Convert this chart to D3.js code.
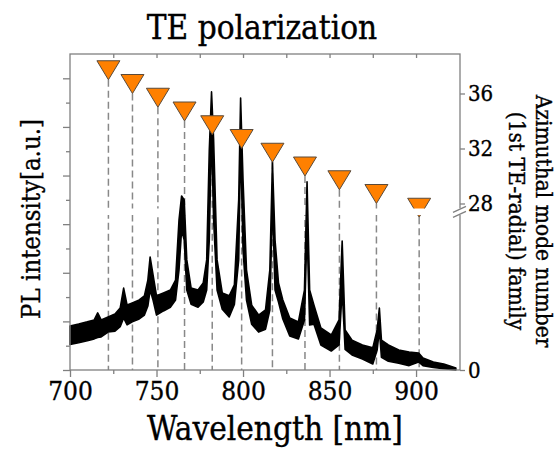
<!DOCTYPE html>
<html>
<head>
<meta charset="utf-8">
<script src="https://cdn.jsdelivr.net/npm/d3@7"></script>
<style>
  body { margin: 0; background: #fff; }
  svg text { font-family: "DejaVu Serif", "Liberation Serif", serif; font-stretch: condensed; fill: #000; stroke: #000; stroke-width: 0.35; }
</style>
</head>
<body>
<svg id="canvas"></svg>
<script>
let wavelengths = [700, 705, 710, 714, 716, 718, 722, 726, 729, 731, 733, 736, 740, 743, 745, 746.3, 748, 750,
  754, 758, 761, 763, 764.5, 766, 767.5, 770, 774, 777, 779, 780.5, 781.8, 783, 785, 788, 792, 795, 797.5,
  798.6, 800, 802, 805, 809, 813, 815.5, 817, 818.5, 820.5, 823, 827, 832, 835.5, 837, 838.5, 841, 845, 851,
  855.5, 857.3, 859, 863, 869, 875, 877.5, 878.8, 880, 884, 890, 896, 901.5, 904, 910, 916, 923];
let upperEnv = [1.81, 1.89, 1.98, 2.06, 2.35, 2.06, 2.18, 2.30, 2.55, 3.37, 2.67, 2.76, 2.88, 3.05, 3.70, 4.65, 3.91, 3.05,
  3.17, 3.29, 3.70, 6.17, 7.16, 7.00, 4.53, 3.37, 3.29, 3.58, 4.53, 9.05, 11.44, 9.47, 4.53, 3.17, 3.05, 3.50, 7.00,
  11.19, 7.82, 4.12, 2.67, 2.26, 2.47, 4.12, 8.56, 5.35, 3.58, 2.88, 2.14, 1.98, 3.29, 7.74, 3.29, 2.67, 1.73, 1.44,
  2.06, 5.31, 1.65, 1.23, 1.03, 0.91, 1.65, 2.55, 1.23, 1.03, 0.82, 0.74, 0.70, 0.49, 0.33, 0.25, 0.08];
let lowerEnv = [1.05, 1.12, 1.20, 1.28, 1.34, 1.36, 1.56, 1.60, 1.78, 2.14, 1.86, 1.98, 2.10, 2.26, 2.63, 3.29, 2.88, 2.26,
  2.43, 2.58, 2.88, 4.12, 5.76, 5.35, 3.29, 2.70, 2.58, 2.80, 3.29, 5.35, 9.88, 6.17, 3.29, 2.50, 2.18, 2.70, 4.53,
  9.47, 4.94, 2.88, 1.88, 1.56, 1.68, 2.47, 7.00, 3.29, 2.80, 2.10, 1.40, 1.28, 2.06, 5.76, 1.85, 1.88, 1.03, 0.78,
  1.03, 3.29, 0.85, 0.62, 0.45, 0.25, 0.82, 1.65, 0.52, 0.36, 0.28, 0.18, 0.33, 0.18, 0.10, 0.05, 0.00];

// azimuthal mode markers (1st TE-radial family)
let modeNumbers = [37, 36, 35, 34, 33, 32, 31, 30, 29, 28, 27];
let modeWavelengths = [722.2, 736.1, 750.8, 766.2, 782.2, 799.2, 817.0, 835.8, 855.7, 877.1, 901.8];

let xTicks = [700, 750, 800, 850, 900];
let xMinorTicks = [725, 775, 825, 875];
let xTopTicks = [725, 750, 775, 800, 825, 850, 875, 900];
let yTicks = [0, 1, 2, 3, 4, 5, 6, 7, 8, 9, 10, 11, 12];
let modeTicks = [0, 28, 32, 36];

let width = 559;
let height = 454;
let padLeft = 70, padRight = 460, padTop = 54, padBottom = 370;
let axisColor = "#808080";

let canvas = d3.select("#canvas").attr("width", width).attr("height", height);

let xScale = d3.scaleLinear().domain([700, 925.4]).range([padLeft, padRight]);
let yScale = d3.scaleLinear().domain([0, 13]).range([padBottom, padTop]);
let modeScale = d3.scaleLinear().domain([28, 36]).range([203.5, 93.5]);
// broken right axis: 0 at the bottom, 28..37 on top
let rightScale = d3.scaleLinear().domain([0, 27.5, 37]).range([padBottom, modeScale(27.5), modeScale(37)]);
let breakY = modeScale(27.5);

let defs = canvas.append("defs");
let clip = defs.append("clipPath").attr("id", "brk");
clip.append("rect").attr("x", padLeft).attr("y", padTop).attr("width", padRight - padLeft).attr("height", breakY - 2 - padTop);
clip.append("rect").attr("x", padLeft).attr("y", breakY + 4.5).attr("width", padRight - padLeft).attr("height", padBottom - breakY - 4.5);

let styleAxis = (g) => {
  g.selectAll(".domain").remove();
  g.selectAll("line").attr("stroke", axisColor).attr("stroke-width", 1.3);
};

// dashed guide lines
canvas.append("g")
  .attr("clip-path", "url(#brk)")
  .selectAll("line")
  .data(modeWavelengths)
  .enter()
  .append("line")
  .attr("x1", (d) => xScale(d))
  .attr("x2", (d) => xScale(d))
  .attr("y1", (d, i) => modeScale(modeNumbers[i]))
  .attr("y2", padBottom)
  .attr("stroke", "#888")
  .attr("stroke-width", 1.5)
  .attr("stroke-dasharray", "7,4");

// spectrum
let spectrum = wavelengths.map((w, i) => ({ w: w, hi: upperEnv[i], lo: lowerEnv[i] }));
let area = d3.area()
  .x((d) => xScale(d.w))
  .y0((d) => yScale(d.lo))
  .y1((d) => yScale(d.hi));
canvas.append("path")
  .datum(spectrum)
  .attr("d", area)
  .attr("fill", "#000")
  .attr("stroke", "#000")
  .attr("stroke-width", 1.6)
  .attr("stroke-linejoin", "round");

// triangles
let tri = "M-11.5,-19L11.5,-19L0,0Z";
canvas.append("g")
  .attr("clip-path", "url(#brk)")
  .selectAll("path")
  .data(modeWavelengths)
  .enter()
  .append("path")
  .attr("d", tri)
  .attr("transform", (d, i) => "translate(" + xScale(d) + "," + modeScale(modeNumbers[i]) + ")")
  .attr("fill", "#ff8000")
  .attr("stroke", "#5a4a3a")
  .attr("stroke-width", 1);

// frame
canvas.append("rect")
  .attr("x", padLeft).attr("y", padTop)
  .attr("width", padRight - padLeft).attr("height", padBottom - padTop)
  .attr("fill", "none")
  .attr("stroke", axisColor)
  .attr("stroke-width", 1.3);

// bottom axis
let xAxis = d3.axisBottom(xScale).tickValues(xTicks).tickSize(7).tickPadding(5);
canvas.append("g")
  .attr("transform", "translate(0," + padBottom + ")")
  .call(xAxis)
  .call(styleAxis)
  .selectAll("text")
  .attr("font-size", 26)
  .attr("fill", "#000");
canvas.append("g")
  .attr("transform", "translate(0," + padBottom + ")")
  .call(d3.axisBottom(xScale).tickValues(xMinorTicks).tickSize(4).tickFormat(""))
  .call(styleAxis);

// top axis, ticks pointing in
canvas.append("g")
  .attr("transform", "translate(0," + padTop + ")")
  .call(d3.axisTop(xScale).tickValues(xTopTicks).tickSize(-4).tickFormat(""))
  .call(styleAxis);

// left axis, long ticks on even values
let yAxis = d3.axisLeft(yScale).tickValues(yTicks).tickFormat("");
canvas.append("g")
  .attr("transform", "translate(" + padLeft + ",0)")
  .call(yAxis)
  .call(styleAxis)
  .selectAll(".tick line")
  .attr("x2", (d) => (d % 2 === 0 ? -7 : -4));

// right axis
let rAxis = d3.axisRight(rightScale).tickValues(modeTicks).tickSize(5).tickPadding(3);
canvas.append("g")
  .attr("transform", "translate(" + padRight + ",0)")
  .call(rAxis)
  .call(styleAxis)
  .selectAll("text")
  .attr("font-size", 22)
  .attr("fill", "#000");

// axis break
canvas.append("rect")
  .attr("x", padRight - 3).attr("y", breakY - 2)
  .attr("width", 6).attr("height", 6.5)
  .attr("fill", "#fff");
[0, 5].forEach((off) => {
  canvas.append("line")
    .attr("x1", padRight - 7).attr("y1", breakY + 2 + off)
    .attr("x2", padRight + 6).attr("y2", breakY - 4 + off)
    .attr("stroke", axisColor)
    .attr("stroke-width", 1.3);
});

// titles
canvas.append("text")
  .attr("x", 262).attr("y", 39)
  .attr("text-anchor", "middle")
  .attr("font-size", 33)
  .text("TE polarization");

canvas.append("text")
  .attr("x", 275).attr("y", 440)
  .attr("text-anchor", "middle")
  .attr("font-size", 33)
  .text("Wavelength [nm]");

canvas.append("text")
  .attr("transform", "translate(40,219) rotate(-90)")
  .attr("text-anchor", "middle")
  .attr("font-size", 25.5)
  .text("PL intensity[a.u.]");

let rLabel = canvas.append("text")
  .attr("transform", "translate(536,221) rotate(90)")
  .attr("text-anchor", "middle")
  .attr("font-size", 22.5);
rLabel.append("tspan").attr("x", 0).attr("dy", 0).text("Azimuthal mode number");
rLabel.append("tspan").attr("x", 0).attr("dy", 27).text("(1st TE-radial) family");
</script>
</body>
</html>
